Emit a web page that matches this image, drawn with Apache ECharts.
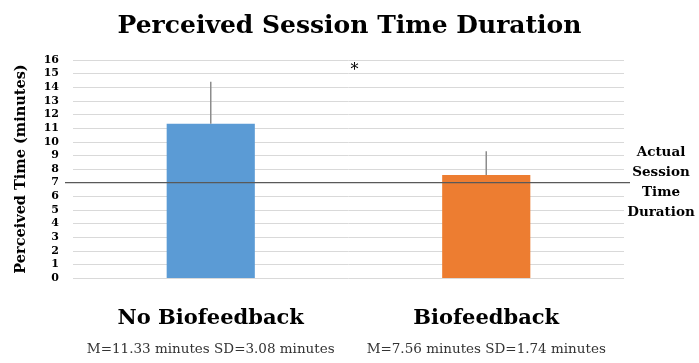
<!DOCTYPE html>
<html><head><meta charset="utf-8">
<script src="https://cdn.jsdelivr.net/npm/echarts@6/dist/echarts.min.js"></script>
<style>html,body{margin:0;padding:0;background:#fff}#c{width:699px;height:363px}</style>
</head><body><div id="c"></div>
<script>
const categories = ['No Biofeedback', 'Biofeedback'];
const means = [11.33, 7.56];
const sds = [3.08, 1.74];
const statLabels = ['M=11.33 minutes SD=3.08 minutes', 'M=7.56 minutes SD=1.74 minutes'];
const barColors = ['#5b9bd5', '#ed7d31'];
const actualDuration = 7;
const yTicks = [0, 16, 1];
const FONT = 'DejaVu Serif';

const chart = echarts.init(document.getElementById('c'), null, {renderer: 'canvas'});
chart.setOption({
  animation: false,
  backgroundColor: '#fff',
  title: {
    text: 'Perceived Session Time Duration', left: 'center', top: 9,
    textStyle: {fontFamily: FONT, fontWeight: 'bold', fontSize: 25, color: '#000'}
  },
  grid: {left: 73, right: 75, top: 60, bottom: 85},
  xAxis: {
    type: 'category', data: categories,
    axisLine: {show: false}, axisTick: {show: false},
    axisLabel: {
      margin: 24,
      formatter: (v, i) => '{a|' + v + '}\n{b|' + statLabels[i] + '}',
      rich: {
        a: {fontFamily: FONT, fontSize: 21, fontWeight: 'bold', color: '#000', lineHeight: 34},
        b: {fontFamily: FONT, fontSize: 13.5, color: '#333', lineHeight: 26}
      }
    }
  },
  yAxis: {
    type: 'value', min: yTicks[0], max: yTicks[1], interval: yTicks[2],
    name: 'Perceived Time (minutes)', nameLocation: 'middle', nameGap: 44,
    nameTextStyle: {fontFamily: FONT, fontWeight: 'bold', fontSize: 14.5, color: '#000'},
    axisLine: {show: false}, axisTick: {show: false},
    axisLabel: {fontFamily: FONT, fontWeight: 'bold', fontSize: 11, color: '#000', margin: 14},
    splitLine: {lineStyle: {color: '#d9d9d9', width: 1}}
  },
  series: [
    {
      type: 'bar', barWidth: '32%',
      data: means.map((m, i) => ({value: m, itemStyle: {color: barColors[i]}})),
      z: 2
    },
    {
      type: 'custom',
      data: means.map((m, i) => [i, m, m + sds[i]]),
      renderItem: (params, api) => {
        const p0 = api.coord([api.value(0), api.value(1)]);
        const p1 = api.coord([api.value(0), api.value(2)]);
        return {type: 'line', shape: {x1: p0[0], y1: p0[1], x2: p1[0], y2: p1[1]},
                style: {stroke: '#8c8c8c', lineWidth: 1.5}};
      },
      z: 3
    }
  ]
});

function addGraphics() {
  const yLine = chart.convertToPixel({yAxisIndex: 0}, actualDuration);
  const yStar = chart.convertToPixel({yAxisIndex: 0}, 15.2);
  const xMid = (chart.convertToPixel({xAxisIndex: 0}, 0) + chart.convertToPixel({xAxisIndex: 0}, 1)) / 2;
  chart.setOption({
    graphic: [
      {type: 'line', shape: {x1: 65, y1: yLine, x2: 630, y2: yLine}, style: {stroke: '#595959', lineWidth: 1.2}, z: 10},
      {type: 'text', x: xMid + 6, y: yStar, style: {text: '*', font: '16px ' + FONT, fill: '#000', align: 'center', verticalAlign: 'middle'}, z: 10},
      {type: 'text', x: 661, y: yLine, style: {text: 'Actual\nSession\nTime\nDuration', font: 'bold 13.5px ' + FONT, lineHeight: 20, fill: '#000', align: 'center', verticalAlign: 'middle'}, z: 10}
    ]
  });
}
addGraphics();
</script></body></html>
